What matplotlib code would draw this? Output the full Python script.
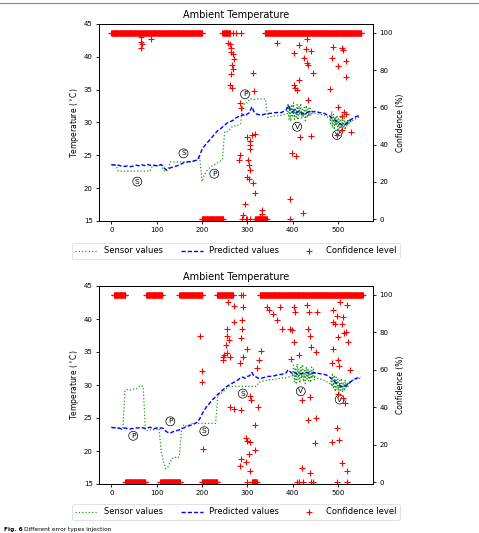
import numpy as np
import matplotlib
matplotlib.use("Agg")
import matplotlib.pyplot as plt
from matplotlib.lines import Line2D

nan = np.nan

# sample index (every 5th sample)
x_grid = list(range(0, 551, 5))

# ---------------- top chart ----------------
pred1 = [23.6, 23.5, 23.6, 23.5, 23.4, 23.4, 23.3, 23.4, 23.3, 23.3, 23.4,
         23.5, 23.4, 23.6, 23.5, 23.4, 23.6, 23.5, 23.4, 23.5, 23.4, 23.5,
         23.6, 23.2, 22.8, 22.9, 23.1, 23.2, 23.3, 23.4, 23.6, 23.7, 23.9,
         24.0, 24.0, 24.1, 24.1, 24.2, 24.4, 25.0, 25.9, 26.4, 26.8, 27.2,
         27.6, 28.0, 28.4, 28.8, 29.0, 29.3, 29.6, 29.9, 30.1, 30.2, 30.4,
         30.7, 30.9, 31.0, 31.2, 31.0, 31.3, 31.5, 32.4, 31.6, 31.3, 31.2,
         31.1, 31.2, 31.3, 31.3, 31.4, 31.4, 31.5, 31.5, 31.6, 31.5, 31.7,
         31.8, 32.6, 32.0, 31.6, 31.9, 31.5, 31.8, 31.4, 31.3, 31.5, 31.6,
         31.8, 31.6, 31.7, 31.6, 31.5, 31.5, 31.4, 31.2, 31.1, 30.8, 30.5,
         30.3, 30.0, 29.8, 29.6, 29.7, 29.9, 30.2, 30.5, 30.7, 30.9, 31.0,
         31.1]

sens1 = [23.6, 23.5, 23.5, 22.6, 22.6, 22.6, 22.6, 22.6, 22.6, 22.6, 22.6,
         22.6, 22.6, 22.6, 22.6, 22.6, 22.6, 22.6, 23.3, 23.4, 23.4, 23.5,
         23.5, 22.7, 22.5, 22.9, 24.0, 24.0, 24.0, 24.0, 24.0, 24.0, 24.0,
         24.0, 24.0, 24.0, 24.1, 24.1, 24.3, 24.6, 21.0, 22.0, 22.6, 23.0,
         23.3, 23.5, 23.7, 23.9, 24.1, 24.3, 28.6, 28.6, 28.8, 29.3, 29.4,
         29.6, 29.6, 29.8, 32.5, 33.0, 33.0, 33.6, 33.6, 33.5, 33.6, 33.6,
         33.6, 33.6, 33.6, 30.8, 30.9, 30.9, 31.0, 31.0, 31.1, 31.1, 31.2,
         31.3, 31.4, 31.4, 31.3, 31.5, 31.3, 31.4, 31.2, 31.2, 31.3, 31.4,
         31.5, 31.3, 31.4, 31.3, 31.2, 31.2, 31.1, 30.9, 30.7, 30.5, 30.2,
         29.9, 29.7, 29.5, 29.4, 29.5, 29.7, 30.0, 30.2, 30.4, 30.6, 30.8,
         30.9]

# variance (V) bursts of the sensor, every 2nd sample
sens1_v1_x = list(range(388, 443, 2))
sens1_v1 = [31.6, 32.9, 30.5, 32.4, 30.2, 32.8, 31.0, 33.0, 30.5, 32.2, 30.8, 32.7,
            30.4, 32.5, 31.2, 32.9, 30.6, 32.0, 30.9, 32.3, 30.3, 32.6, 30.7, 32.1,
            30.9, 32.4, 31.0, 31.8]
sens1_v2_x = list(range(482, 531, 2))
sens1_v2 = [31.0, 29.6, 31.7, 29.2, 31.3, 28.9, 30.9, 29.5, 31.1, 28.7, 30.6, 29.0,
            30.8, 28.6, 30.4, 29.3, 30.7, 28.9, 30.1, 29.4, 30.5, 29.8, 30.6, 30.0,
            30.4]

# confidence: constant runs (start, end, value) + isolated points
conf1_runs = [(0, 200, 100), (200, 247, 0), (245, 262, 100), (317, 343, 0), (339, 552, 100)]
conf1_pts_x = [65, 66, 67, 66, 87, 269, 275, 287,
               258, 262, 264, 263, 268, 270, 266, 268, 265, 262, 266,
               313, 315, 284, 287, 299, 310, 316, 305, 307, 306, 284, 282, 302,
               304, 306, 300, 304, 313, 317, 295, 291, 296, 288, 333, 333, 329,
               300, 305,
               365, 402, 415, 432, 441, 426, 432, 435, 446, 414, 402, 405, 410,
               435, 398, 408, 394, 422, 394, 416, 440, 430,
               490, 508, 511, 486, 517, 501, 518, 483, 501, 513, 508, 518, 497,
               530, 508]
conf1_pts_y = [97.7, 95.3, 94.1, 91.8, 96.6, 100, 100, 100,
               94.5, 94.1, 92.0, 90.0, 88.5, 86.0, 82.8, 80.5, 78.0, 72.0, 70.4,
               78.3, 69.0, 62.2, 59.5, 44.2, 45.2, 45.5, 39.8, 42.0, 37.5, 34.4, 31.7, 32.0,
               29.0, 26.3, 22.7, 21.3, 19.5, 14.1, 8.0, 2.2, 0, 0, 4.8, 2.9, 1.2,
               0, 0,
               94.8, 89.4, 93.5, 96.6, 90.3, 86.4, 83.7, 82.8, 78.3, 74.7, 72.0, 70.3, 69.4,
               64.0, 35.3, 33.9, 10.6, 3.4, 0, 44.2, 44.6, 91.5,
               92.6, 92.1, 90.9, 86.4, 85.1, 82.4, 76.5, 69.7, 60.1, 57.7, 55.5, 56.5, 45.2,
               46.9, 47.8]

# ---------------- bottom chart ----------------
pred2 = [23.6, 23.5, 23.6, 23.5, 23.4, 23.4, 23.5, 23.4, 23.3, 23.4, 23.4,
         23.5, 23.5, 23.6, 23.5, 23.4, 23.5, 23.6, 23.5, 23.4, 23.5, 23.4,
         23.5, 23.4, 23.0, 22.8, 22.7, 22.9, 23.0, 23.1, 23.2, 23.4, 23.5,
         23.7, 23.8, 23.9, 24.0, 24.2, 24.4, 24.9, 25.6, 26.2, 26.7, 27.1,
         27.5, 27.9, 28.2, 28.6, 28.9, 29.2, 29.5, 29.8, 30.0, 30.2, 30.4,
         30.6, 30.8, 31.1, 31.2, 31.0, 31.3, 31.4, 31.9, 31.3, 31.2, 31.0,
         31.0, 31.1, 31.2, 31.3, 31.3, 31.4, 31.4, 31.5, 31.6, 31.6, 31.7,
         31.8, 32.3, 32.0, 31.7, 31.9, 31.6, 31.8, 31.7, 31.8, 31.9, 31.8,
         31.9, 31.8, 31.9, 31.8, 31.7, 31.7, 31.6, 31.5, 31.3, 31.0, 30.7,
         30.4, 30.1, 29.9, 29.7, 29.8, 30.0, 30.3, 30.6, 30.8, 31.0, 31.1,
         31.2]

sens2 = [23.6, 23.5, 23.5, 23.4, 23.3, 23.2, 29.2, 29.3, 29.2, 29.3, 29.4,
         29.4, 29.7, 29.9, 29.8, 23.2, 23.1, 23.2, 23.3, 23.2, 23.3, 23.4,
         19.8, 18.3, 17.3, 17.6, 18.4, 18.9, 19.1, 18.9, 19.2, 23.6, 24.0,
         23.8, 23.9, 24.1, 24.2, 24.2, 24.2, 24.2, 24.2, 24.2, 24.2, 24.2,
         24.2, 24.2, 24.2, 28.5, 28.6, 28.9, 29.2, 29.5, 29.8, 29.8, 29.8,
         29.8, 29.8, 29.8, 29.8, 29.8, 29.8, 29.8, 29.8, 29.8, 29.8, 30.4,
         30.5, 30.6, 30.7, 30.7, 30.8, 30.8, 30.9, 30.9, 31.0, 31.0, 31.1,
         31.1, 31.2, 31.3, 31.4, 31.3, 31.4, 31.4, 31.5, 31.4, 31.3, 31.4,
         31.3, 31.2, 31.1, 31.0, 30.9, 30.8, 30.7, 30.5, 30.3, 30.1, 29.9,
         29.7, 29.6, 29.6, 29.8, 30.0, 30.2, 30.4, 30.6, 30.8, 30.9, 31.0,
         31.0]

sens2_v1_x = list(range(400, 453, 2))
sens2_v1 = [31.4, 33.0, 30.4, 32.6, 30.1, 33.2, 30.7, 32.4, 30.3, 32.9, 31.0, 33.1,
            30.5, 32.2, 30.2, 32.8, 30.9, 32.5, 30.6, 32.1, 30.4, 32.7, 31.1, 32.4,
            30.8, 32.0, 31.3]
sens2_v2_x = list(range(484, 529, 2))
sens2_v2 = [31.2, 29.8, 31.8, 29.4, 31.5, 29.0, 31.2, 29.3, 30.9, 28.8, 30.7, 29.2,
            31.0, 28.9, 30.4, 29.1, 30.8, 29.5, 30.2, 29.7, 30.5, 30.1, 30.6]

conf2_runs = [(5, 31, 100), (31, 75, 0), (77, 112, 100), (108, 152, 0), (150, 200, 100),
              (200, 233, 0), (233, 269, 100), (310, 321, 0), (328, 555, 100)]
conf2_pts_x = [196, 199, 199, 203, 199, 285, 291,
               246, 246, 249, 256, 262, 252, 256, 259, 256, 271, 289, 289, 285,
               300, 291, 284, 258, 271, 291, 322, 326, 330, 343, 347, 357, 365,
               372, 376, 394, 398, 402, 405, 402, 396, 415, 432, 436, 434, 438,
               440, 451, 454, 490, 497, 489, 494, 508, 511, 519, 504, 500, 513,
               517, 522, 490, 487, 500, 502, 526,
               262, 270, 285, 296, 300, 305, 303, 285, 283, 296, 307, 316, 318,
               323, 305, 308, 420, 438, 434, 451, 449, 420, 438, 497, 503, 486,
               510, 519, 511, 515, 500,
               300, 410, 415, 422, 440, 444, 497, 519]
conf2_pts_y = [78.0, 59.3, 53.6, 17.6, 100, 100, 100,
               67.0, 65.2, 67.9, 68.8, 67.0, 73.2, 78.0, 76.0, 82.0, 85.6, 86.5, 82.0, 77.0,
               71.4, 67.0, 63.4, 96.3, 94.0, 93.6, 60.8, 65.2, 70.1, 93.6, 92.0, 89.7, 86.5,
               93.6, 82.0, 82.0, 81.2, 93.6, 91.0, 75.0, 66.0, 67.9, 94.5, 91.0, 82.0, 78.0,
               72.0, 69.4, 91.0, 91.8, 89.0, 85.6, 84.5, 84.7, 88.4, 94.6, 96.5, 77.3, 79.5,
               80.0, 74.9, 71.4, 63.4, 65.2, 62.0, 59.9,
               40.3, 38.9, 38.5, 23.4, 22.0, 21.3, 15.1, 12.3, 8.8, 11.0, 5.7, 17.2, 30.5,
               40.0, 46.0, 43.9, 43.9, 45.6, 33.2, 34.1, 20.8, 7.5, 5.0, 28.8, 22.5, 21.6,
               10.1, 5.7, 44.8, 42.1, 46.9,
               0, 0, 0, 0, 0, 0, 0, 0]

title = "Ambient Temperature"
ylabel_left = "Temperature ($^\\circ$C)"
ylabel_right = "Confidence (%)"
legend_labels = ["Sensor values", "Predicted values", "Confidence level"]
x_ticks = [0, 100, 200, 300, 400, 500]
y_ticks = [15, 20, 25, 30, 35, 40, 45]
conf_ticks = [0, 20, 40, 60, 80, 100]

annot1 = [("S", 57, 21.0), ("S", 159, 25.3), ("P", 227, 22.2),
          ("P", 295, 34.3), ("V", 410, 29.35), ("V", 498, 28.1)]
annot2 = [("P", 48, 22.3), ("P", 130, 24.5), ("S", 205, 23.0),
          ("S", 290, 28.7), ("V", 418, 29.05), ("V", 504, 27.8)]

GREEN = "#1f9a1f"

fig = plt.figure(figsize=(4.79, 5.33), dpi=100)
fig.patch.set_facecolor("white")

fig.add_artist(Line2D([0, 1], [1 - 2.5 / 533, 1 - 2.5 / 533], color="#888888", lw=0.8))
fig.text(4 / 479, 1 - 529 / 533, "Fig. 6", fontsize=4.2, fontweight="bold", va="center", ha="left")
fig.text(24 / 479, 1 - 529 / 533, "Different error types injection", fontsize=4.2, va="center", ha="left")


def expand(runs, px, py):
    xs, ys = [], []
    for a, b, v in runs:
        for s in range(a, b + 1):
            xs.append(s)
            ys.append(v)
    return xs + list(px), ys + list(py)


def draw(rect, sens, vbursts, pred, runs, px, py, annots, leg_y):
    ax = fig.add_axes(rect)
    l1, = ax.plot(x_grid, sens, linestyle=":", color=GREEN, lw=0.9)
    for vx, vy in vbursts:
        ax.plot(vx, vy, linestyle=":", color=GREEN, lw=0.9)
    l2, = ax.plot(x_grid, pred, linestyle="--", color="blue", lw=1.0, dashes=(3, 1.5))
    ax.set_xlim(-27.5, 577.5)
    ax.set_ylim(15, 45)
    ax.set_xticks(x_ticks)
    ax.set_yticks(y_ticks)
    ax.set_title(title, fontsize=7, pad=4)
    ax.set_ylabel(ylabel_left, fontsize=5.5, labelpad=2)
    ax.tick_params(labelsize=5, length=2.5, width=0.6, pad=2)
    for s in ax.spines.values():
        s.set_linewidth(0.7)
    for lab, xx, yy in annots:
        ax.text(xx, yy, lab, fontsize=5.3, ha="center", va="center",
                bbox=dict(boxstyle="circle,pad=0.2", fc="white", ec="black", lw=0.5), zorder=5)
    ax2 = ax.twinx()
    cx, cy = expand(runs, px, py)
    l3, = ax2.plot(cx, cy, linestyle="none", marker="+", color="red", ms=4.0, mew=0.8)
    ax2.set_ylim(-1, 104.8)
    ax2.set_yticks(conf_ticks)
    ax2.set_ylabel(ylabel_right, fontsize=5.5, labelpad=2)
    ax2.tick_params(labelsize=5, length=2.5, width=0.6, pad=2)
    for s in ax2.spines.values():
        s.set_linewidth(0.7)
    leg = ax.legend([l1, l2, l3], legend_labels, loc="center", bbox_to_anchor=(0.5, leg_y),
                    ncol=3, fontsize=6, handlelength=2.6, columnspacing=2.2,
                    frameon=True, borderpad=0.4, handletextpad=0.8)
    leg.get_frame().set_linewidth(0.5)
    return ax


draw([99 / 479, 1 - 221 / 533, 274 / 479, 197 / 533], sens1,
     [(sens1_v1_x, sens1_v1), (sens1_v2_x, sens1_v2)], pred1,
     conf1_runs, conf1_pts_x, conf1_pts_y, annot1, -0.152)
draw([99 / 479, 1 - 484 / 533, 274 / 479, 198 / 533], sens2,
     [(sens2_v1_x, sens2_v1), (sens2_v2_x, sens2_v2)], pred2,
     conf2_runs, conf2_pts_x, conf2_pts_y, annot2, -0.141)

fig.savefig("out.png", dpi=100)
